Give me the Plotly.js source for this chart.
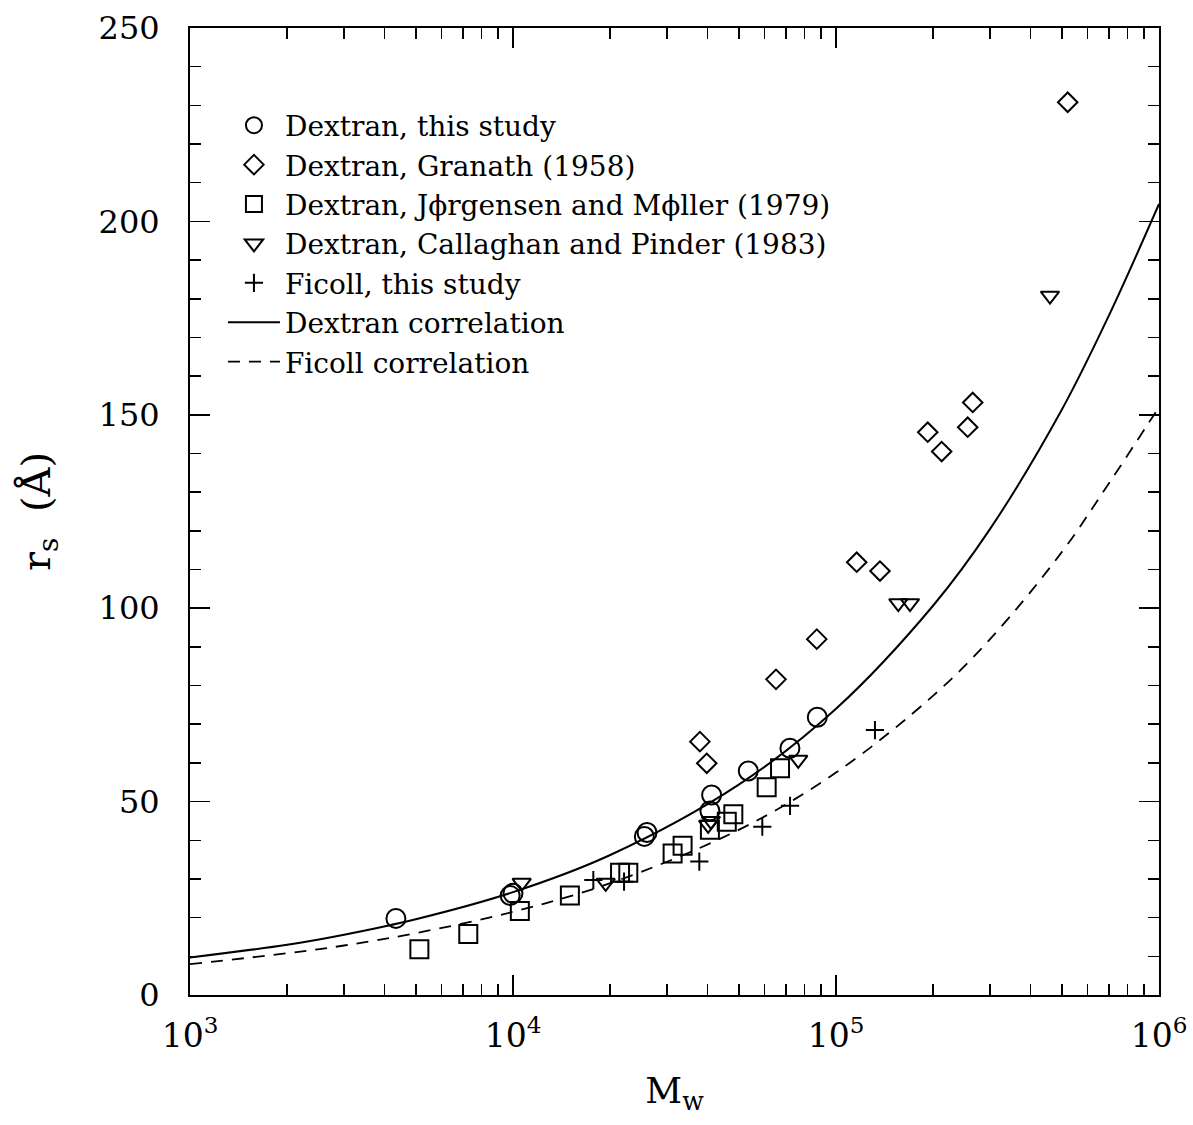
<!DOCTYPE html>
<html>
<head>
<meta charset="utf-8">
<script src="https://cdn.plot.ly/plotly-3.0.1.min.js"></script>
<style>html,body{margin:0;padding:0;background:#fff;}</style>
</head>
<body>
<div id="chart" style="width:1193px;height:1125px;"></div>
<script>
// Dextran, this study (circles)
const dexThisX = [4340, 9800, 10000, 25500, 26000, 40700, 41200, 53500, 72000, 87500];
const dexThisY = [19.8, 25.7, 26.3, 41.0, 42.0, 47.6, 51.7, 57.9, 63.8, 71.8];
// Dextran, Granath (1958) (diamonds)
const granathX = [37900, 39800, 65200, 87200, 115900, 136800, 192300, 212400, 255700, 265000, 521600];
const granathY = [65.5, 59.9, 81.6, 92.0, 111.9, 109.6, 145.5, 140.5, 146.8, 153.2, 230.8];
// Dextran, Jørgensen and Møller (1979) (squares)
const jorgX = [5130, 7270, 10500, 15000, 21450, 22750, 31200, 33500, 40700, 45900, 48100, 61000, 67100];
const jorgY = [11.8, 15.8, 21.7, 25.7, 31.6, 31.6, 36.6, 38.6, 42.7, 44.8, 46.7, 53.7, 58.6];
// Dextran, Callaghan and Pinder (1983) (down triangles)
const callX = [10640, 19360, 40200, 41000, 76400, 155900, 169500, 459700];
const callY = [29.0, 29.0, 44.0, 45.0, 60.8, 101.3, 101.3, 180.8];
// Ficoll, this study (plus)
const ficollX = [17730, 22070, 37740, 59130, 72060, 132000];
const ficollY = [29.7, 29.3, 34.5, 43.5, 48.9, 68.5];
// Correlation curves
const corrX = [1000, 2000, 3000, 5000, 10000, 20000, 50000, 100000, 200000, 300000, 500000, 700000, 1000000];
const dexCorrY = [9.7, 13.0, 15.6, 19.6, 26.6, 36.2, 54.4, 74.0, 100.7, 120.5, 151.3, 175.7, 204.5];
const ficCorrY = [8.0, 10.8, 12.8, 16.0, 21.5, 28.9, 42.7, 57.5, 77.4, 92.0, 114.5, 132.3, 152.0];

const xTickVals = [1e3, 1e4, 1e5, 1e6];
const xTickText = ['10<sup>3</sup>', '10<sup>4</sup>', '10<sup>5</sup>', '10<sup>6</sup>'];
const xMinorVals = [];
[1e3, 1e4, 1e5].forEach(d => { for (let k = 2; k <= 9; k++) xMinorVals.push(d * k); });

const names = [
  'Dextran, this study',
  'Dextran, Granath (1958)',
  'Dextran, J\u03D5rgensen and M\u03D5ller (1979)',
  'Dextran, Callaghan and Pinder (1983)',
  'Ficoll, this study',
  'Dextran correlation',
  'Ficoll correlation'
];

function markerTrace(x, y, name, symbol, size) {
  return {
    x: x, y: y, name: name, type: 'scatter', mode: 'markers',
    marker: {symbol: symbol, size: size, color: 'black', line: {color: 'black', width: 2}},
    hoverinfo: 'x+y'
  };
}

const data = [
  markerTrace(dexThisX, dexThisY, names[0], 'circle-open', 19),
  markerTrace(granathX, granathY, names[1], 'diamond-open', 15),
  markerTrace(jorgX, jorgY, names[2], 'square-open', 18),
  markerTrace(callX, callY, names[3], 'triangle-down-open', 16),
  markerTrace(ficollX, ficollY, names[4], 'cross-thin-open', 13),
  {x: corrX, y: dexCorrY, name: names[5], type: 'scatter', mode: 'lines',
   line: {color: 'black', width: 2, shape: 'spline'}},
  {x: corrX, y: ficCorrY, name: names[6], type: 'scatter', mode: 'lines',
   line: {color: 'black', width: 1.8, dash: '12px,9px', shape: 'spline'}}
];

const layout = {
  width: 1193, height: 1125,
  margin: {l: 190, r: 34, t: 28, b: 130},
  paper_bgcolor: 'white', plot_bgcolor: 'white',
  font: {family: 'DejaVu Serif, serif', color: 'black', size: 28},
  showlegend: true,
  legend: {
    x: 0.034, y: 0.925, xanchor: 'left', yanchor: 'top',
    bgcolor: 'rgba(0,0,0,0)', borderwidth: 0,
    font: {family: 'DejaVu Serif, serif', size: 28, color: 'black'},
    traceorder: 'normal', itemwidth: 52
  },
  xaxis: {
    type: 'log', range: [3, 6],
    tickmode: 'array', tickvals: xTickVals, ticktext: xTickText,
    ticks: 'inside', ticklen: 20, tickwidth: 1.5, tickcolor: 'black',
    showline: true, linewidth: 2, linecolor: 'black', mirror: 'ticks',
    showgrid: false, zeroline: false,
    tickfont: {size: 33, family: 'DejaVu Serif, serif'},
    ticklabelstandoff: 10,
    minor: {tickmode: 'array', tickvals: xMinorVals, ticks: 'inside', ticklen: 11,
            tickwidth: 1.5, tickcolor: 'black', showgrid: false},
    title: {text: 'M<sub>w</sub>', font: {size: 36, family: 'DejaVu Serif, serif'}, standoff: 24}
  },
  yaxis: {
    range: [0, 250], tickmode: 'linear', tick0: 0, dtick: 50,
    ticks: 'inside', ticklen: 20, tickwidth: 1.5, tickcolor: 'black',
    showline: true, linewidth: 2, linecolor: 'black', mirror: 'ticks',
    showgrid: false, zeroline: false,
    tickfont: {size: 32, family: 'DejaVu Serif, serif'},
    ticklabelstandoff: 22,
    minor: {dtick: 10, tick0: 0, ticks: 'inside', ticklen: 11, tickwidth: 1.5,
            tickcolor: 'black', showgrid: false},
    title: {text: 'r<sub>s</sub>  (\u00C5)', font: {size: 40, family: 'DejaVu Serif, serif'}, standoff: 36}
  }
};

Plotly.newPlot('chart', data, layout, {displayModeBar: false, staticPlot: true});
</script>
</body>
</html>
